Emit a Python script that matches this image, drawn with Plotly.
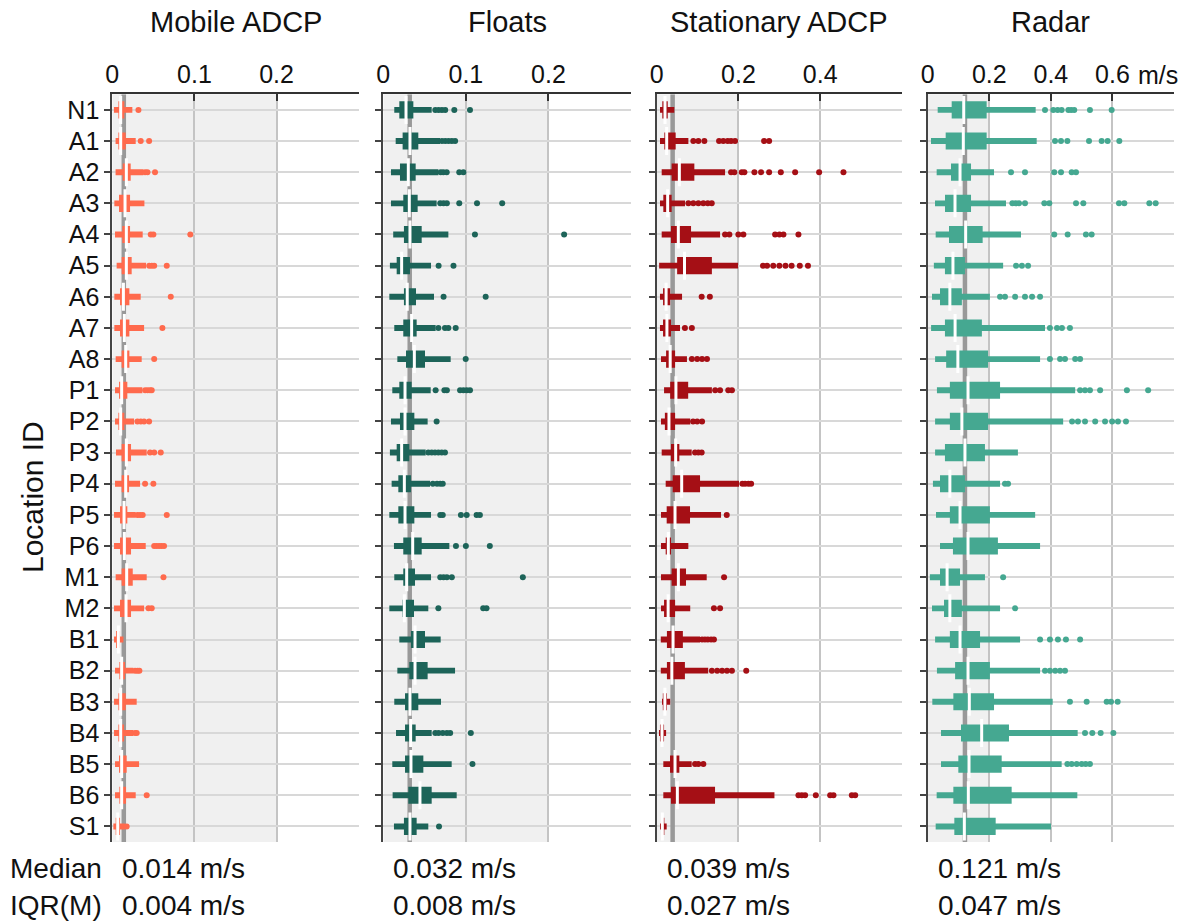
import plotly.graph_objects as go

W, H = 1188, 922

locations = ["N1", "A1", "A2", "A3", "A4", "A5", "A6", "A7", "A8",
             "P1", "P2", "P3", "P4", "P5", "P6", "M1", "M2",
             "B1", "B2", "B3", "B4", "B5", "B6", "S1"]

instruments = ["Mobile ADCP", "Floats", "Stationary ADCP", "Radar"]
colors = ["#ff6a4d", "#1d6459", "#a50f15", "#45a891"]
overall_median = [0.014, 0.032, 0.039, 0.121]
overall_iqr = [0.004, 0.008, 0.027, 0.047]

# ---- Mobile ADCP letter values (m/s) ----
mob_lo = [0.0020, 0.0040, 0.0040, 0.0025, 0.0033, 0.0053, 0.0025, 0.0025, 0.0041, 0.0033, 0.0033, 0.0045,
          0.0033, 0.0021, 0.0021, 0.0041, 0.0021, 0.0021, 0.0033, 0.0021, 0.0021, 0.0033, 0.0033, 0.0013]
mob_q1 = [0.0074, 0.0074, 0.0127, 0.0082, 0.0122, 0.0114, 0.0094, 0.0094, 0.0114, 0.0082, 0.0074, 0.0114,
          0.0114, 0.0094, 0.0094, 0.0114, 0.0094, 0.0045, 0.0086, 0.0074, 0.0074, 0.0082, 0.0086, 0.0041]
mob_med = [0.0102, 0.0102, 0.0171, 0.0155, 0.0171, 0.0171, 0.0135, 0.0147, 0.0163, 0.0114, 0.0102, 0.0171,
           0.0163, 0.0143, 0.0147, 0.0175, 0.0167, 0.0074, 0.0114, 0.0102, 0.0102, 0.0114, 0.0114, 0.0066]
mob_q3 = [0.0147, 0.0163, 0.0224, 0.0216, 0.0216, 0.0236, 0.0208, 0.0208, 0.0208, 0.0183, 0.0147, 0.0228,
          0.0204, 0.0183, 0.0228, 0.0249, 0.0228, 0.0094, 0.0155, 0.0163, 0.0143, 0.0175, 0.0167, 0.0094]
mob_hi = [0.0244, 0.0285, 0.0379, 0.0391, 0.0370, 0.0411, 0.0346, 0.0387, 0.0358, 0.0366, 0.0265, 0.0419,
          0.0338, 0.0285, 0.0407, 0.0419, 0.0387, 0.0135, 0.0257, 0.0297, 0.0257, 0.0326, 0.0285, 0.0155]
mob_out = [[0.0318], [0.0346, 0.0448], [0.0399, 0.0428, 0.052], [], [0.0468, 0.050, 0.095],
           [0.045, 0.048, 0.051, 0.0663], [0.0712], [0.061], [0.051], [0.040, 0.043, 0.046, 0.048],
           [0.0306, 0.0346, 0.0387, 0.0448], [0.046, 0.051, 0.059], [0.0399, 0.050],
           [0.0306, 0.0338, 0.037, 0.0663], [0.051, 0.054, 0.057, 0.060, 0.063], [0.0623],
           [0.044, 0.048], [], [0.0277, 0.0306, 0.033], [], [0.0277, 0.0297], [], [0.0419], [0.0175]]

# ---- Floats ----
flt_lo = [0.0133, 0.0150, 0.0093, 0.0093, 0.0120, 0.0080, 0.0073, 0.0133, 0.0170, 0.0109, 0.0093, 0.0080,
          0.0101, 0.0073, 0.0129, 0.0133, 0.0073, 0.0194, 0.0170, 0.0133, 0.0154, 0.0109, 0.0113, 0.0129]
flt_q1 = [0.0194, 0.0234, 0.0202, 0.0242, 0.0250, 0.0162, 0.0250, 0.0242, 0.0275, 0.0194, 0.0202, 0.0162,
          0.0182, 0.0182, 0.0242, 0.0242, 0.0234, 0.0335, 0.0315, 0.0263, 0.0263, 0.0263, 0.0303, 0.0250]
flt_med = [0.0275, 0.0323, 0.0303, 0.0315, 0.0323, 0.0222, 0.0290, 0.0343, 0.0376, 0.0263, 0.0263, 0.0222,
           0.0255, 0.0263, 0.0356, 0.0283, 0.0255, 0.0384, 0.0384, 0.0323, 0.0331, 0.0335, 0.0444, 0.0323]
flt_q3 = [0.0364, 0.0424, 0.0392, 0.0416, 0.0465, 0.0323, 0.0396, 0.0404, 0.0505, 0.0343, 0.0376, 0.0315,
          0.0335, 0.0376, 0.0465, 0.0384, 0.0372, 0.0505, 0.0537, 0.0424, 0.0392, 0.0485, 0.0586, 0.0404]
flt_hi = [0.0586, 0.0687, 0.0667, 0.0646, 0.0788, 0.0578, 0.0614, 0.0634, 0.0816, 0.0574, 0.0537, 0.0513,
          0.0566, 0.0578, 0.0800, 0.0578, 0.0545, 0.0695, 0.0869, 0.0699, 0.0586, 0.0828, 0.0889, 0.0545]
flt_out = [[0.063, 0.067, 0.071, 0.075, 0.086, 0.105], [0.071, 0.075, 0.079, 0.083, 0.087],
           [0.0695, 0.0727, 0.0768, 0.092, 0.097], [0.069, 0.073, 0.077, 0.092, 0.1135, 0.144],
           [0.111, 0.219], [0.067, 0.085], [0.073, 0.124], [0.0667, 0.0747, 0.0788, 0.0877], [0.0998],
           [0.0634, 0.074, 0.077, 0.093, 0.097, 0.101, 0.105], [0.0646],
           [0.0545, 0.0586, 0.0626, 0.0667, 0.0707, 0.0747], [0.060, 0.065, 0.069, 0.072],
           [0.069, 0.072, 0.094, 0.101, 0.113, 0.117], [0.088, 0.100, 0.129],
           [0.069, 0.073, 0.077, 0.083, 0.169], [0.0667, 0.121, 0.125], [], [], [],
           [0.063, 0.067, 0.072, 0.077, 0.081, 0.106], [0.108], [], [0.0675]]

# ---- Stationary ADCP ----
sta_lo = [0.0081, 0.0081, 0.0122, 0.0081, 0.0122, 0.0060, 0.0080, 0.0080, 0.0105, 0.0180, 0.0105, 0.0122,
          0.0220, 0.0105, 0.0105, 0.0105, 0.0105, 0.0100, 0.0100, 0.0130, 0.0056, 0.0162, 0.0162, 0.0081]
sta_q1 = [0.0137, 0.0187, 0.0366, 0.0162, 0.0350, 0.0500, 0.0155, 0.0155, 0.0230, 0.0330, 0.0200, 0.0350,
          0.0391, 0.0244, 0.0220, 0.0366, 0.0180, 0.0250, 0.0250, 0.0150, 0.0080, 0.0326, 0.0350, 0.0122]
sta_med = [0.0203, 0.0244, 0.0554, 0.0268, 0.0529, 0.0680, 0.0230, 0.0250, 0.0330, 0.0470, 0.0300, 0.0464,
           0.0611, 0.0448, 0.0285, 0.0530, 0.0280, 0.0400, 0.0370, 0.0200, 0.0130, 0.0448, 0.0505, 0.0138]
sta_q3 = [0.0270, 0.0464, 0.0921, 0.0366, 0.0840, 0.1350, 0.0330, 0.0350, 0.0450, 0.0770, 0.0450, 0.0554,
          0.1060, 0.0815, 0.0350, 0.0717, 0.0450, 0.0640, 0.0690, 0.0250, 0.0180, 0.0554, 0.1427, 0.0187]
sta_hi = [0.0430, 0.0775, 0.1672, 0.0693, 0.1550, 0.1990, 0.0620, 0.0570, 0.0740, 0.1350, 0.0820, 0.0856,
          0.2015, 0.1574, 0.0774, 0.1223, 0.0820, 0.1060, 0.1260, 0.0330, 0.0230, 0.0856, 0.2880, 0.0244]
sta_out = [[], [0.0896, 0.1019, 0.1166, 0.1525, 0.163, 0.1737, 0.1819, 0.1917, 0.2627, 0.275],
           [0.1819, 0.190, 0.208, 0.2145, 0.239, 0.2553, 0.275, 0.3036, 0.3386, 0.3973, 0.4568],
           [0.0775, 0.0896, 0.1019, 0.114, 0.1249, 0.1346],
           [0.1672, 0.1778, 0.1998, 0.212, 0.2896, 0.3002, 0.310, 0.3467],
           [0.260, 0.270, 0.285, 0.300, 0.315, 0.330, 0.350, 0.370], [0.110, 0.130], [0.069, 0.086],
           [0.086, 0.099, 0.111, 0.123], [0.143, 0.155, 0.175, 0.184], [0.089, 0.099, 0.111],
           [0.0938, 0.1019, 0.110], [0.2096, 0.2162, 0.2243, 0.2309], [0.1713], [], [0.1648],
           [0.140, 0.155], [0.111, 0.118, 0.125, 0.133, 0.140], [0.135, 0.148, 0.160, 0.172, 0.184, 0.219],
           [], [], [0.0938, 0.1019, 0.1141],
           [0.3467, 0.3549, 0.363, 0.3892, 0.4243, 0.4324, 0.4773, 0.4855], []]

# ---- Radar ----
rad_lo = [0.0324, 0.0107, 0.0291, 0.0237, 0.0259, 0.0200, 0.0140, 0.0110, 0.0240, 0.0300, 0.0240, 0.0240,
          0.0170, 0.0270, 0.0400, 0.0070, 0.0140, 0.0240, 0.0300, 0.0150, 0.0432, 0.0432, 0.0291, 0.0259]
rad_q1 = [0.0779, 0.0584, 0.0757, 0.0562, 0.0692, 0.0560, 0.0400, 0.0560, 0.0600, 0.0720, 0.0720, 0.0560,
          0.0400, 0.0720, 0.0820, 0.0400, 0.0530, 0.0720, 0.0890, 0.0833, 0.1082, 0.0995, 0.0833, 0.0865]
rad_med = [0.1170, 0.1157, 0.1050, 0.0887, 0.1233, 0.0820, 0.0720, 0.0890, 0.0980, 0.1310, 0.1110, 0.1210,
           0.0720, 0.1050, 0.1310, 0.0630, 0.0720, 0.1050, 0.1310, 0.1352, 0.1753, 0.1342, 0.1320, 0.1190]
rad_q3 = [0.1915, 0.1915, 0.1407, 0.1407, 0.1785, 0.1210, 0.1110, 0.1760, 0.1960, 0.2350, 0.1960, 0.1860,
          0.1210, 0.2020, 0.2280, 0.1050, 0.1110, 0.1700, 0.2020, 0.2154, 0.2640, 0.2403, 0.2727, 0.2208]
rad_hi = [0.3507, 0.3540, 0.2154, 0.2543, 0.3030, 0.2450, 0.2020, 0.3810, 0.3650, 0.4790, 0.4400, 0.2930,
          0.2350, 0.3490, 0.3650, 0.1860, 0.2350, 0.3000, 0.3650, 0.4060, 0.4871, 0.4351, 0.4860, 0.4005]
rad_out = [[0.381, 0.408, 0.422, 0.435, 0.457, 0.466, 0.476, 0.527, 0.5975],
           [0.4135, 0.433, 0.4536, 0.524, 0.565, 0.5845, 0.6224],
           [0.2706, 0.316, 0.411, 0.433, 0.4676, 0.4817],
           [0.275, 0.2857, 0.2966, 0.316, 0.3788, 0.395, 0.4817, 0.5055, 0.6213, 0.6387, 0.7199, 0.7405],
           [0.411, 0.4546, 0.514, 0.5326], [0.287, 0.306, 0.326],
           [0.235, 0.251, 0.284, 0.316, 0.339, 0.365], [0.397, 0.420, 0.436, 0.462],
           [0.397, 0.430, 0.446, 0.479, 0.495], [0.495, 0.511, 0.527, 0.560, 0.647, 0.716],
           [0.469, 0.488, 0.511, 0.544, 0.576, 0.599, 0.618, 0.644], [], [0.251, 0.261], [], [],
           [0.245], [0.284], [0.365, 0.397, 0.423, 0.449, 0.495], [0.381, 0.397, 0.414, 0.430, 0.446],
           [0.462, 0.5163, 0.5813, 0.5954, 0.617], [0.511, 0.5347, 0.5618, 0.603],
           [0.4536, 0.4676, 0.4839, 0.5001, 0.5131, 0.527], [], []]

panels = [
    (mob_lo, mob_q1, mob_med, mob_q3, mob_hi, mob_out),
    (flt_lo, flt_q1, flt_med, flt_q3, flt_hi, flt_out),
    (sta_lo, sta_q1, sta_med, sta_q3, sta_hi, sta_out),
    (rad_lo, rad_q1, rad_med, rad_q3, rad_hi, rad_out),
]

x_ranges = [[0, 0.3], [0, 0.3], [0, 0.6], [0, 0.8]]
x_tickvals = [[0, 0.1, 0.2, 0.3], [0, 0.1, 0.2, 0.3], [0, 0.2, 0.4, 0.6], [0, 0.2, 0.4, 0.6, 0.8]]
x_ticktext = [["0", "0.1", "0.2", ""], ["0", "0.1", "0.2", ""], ["0", "0.2", "0.4", ""],
              ["0", "0.2", "0.4", "0.6", ""]]
UNIT_TICK = 0.6          # the unit is written after this tick on the last panel
SHADE_LIMIT = 0.2

# panel placement in pixels
panel_px = [(112.3, 358.7), (383.3, 631.0), (656.7, 902.0), (927.7, 1174.0)]
plot_top, plot_bottom = 94.3, 842.0
MEDIAN_LINE_PX = 4.5

FONT = "Liberation Sans, Arial, sans-serif"
TEXT = "#111"
rows = list(range(len(locations)))

fig = go.Figure()
layout = dict(
    width=W, height=H, margin=dict(l=0, r=0, t=0, b=0, pad=0), autosize=False,
    paper_bgcolor="white", plot_bgcolor="rgba(0,0,0,0)",
    barmode="overlay", showlegend=False,
    font=dict(family=FONT, size=24, color=TEXT),
)
shapes = []
annotations = []

for i, (lo, q1, med, q3, hi, out) in enumerate(panels):
    n = "" if i == 0 else str(i + 1)
    xa, ya = "x" + n, "y" + n
    col = colors[i]
    x0p, x1p = panel_px[i]
    units_per_px = (x_ranges[i][1] - x_ranges[i][0]) / (x1p - x0p)

    layout["xaxis" + n] = dict(
        domain=[x0p / W, x1p / W], range=x_ranges[i], anchor=ya, side="top",
        tickvals=x_tickvals[i], ticktext=x_ticktext[i], ticks="inside", ticklen=7,
        tickwidth=1.5, tickcolor="#333", showline=True, linecolor="#333", linewidth=1.5,
        showgrid=True, gridcolor="#c4c4c4", gridwidth=1.5, zeroline=False, automargin=False,
        tickfont=dict(size=25, color=TEXT), fixedrange=True,
    )
    layout["yaxis" + n] = dict(
        domain=[1 - plot_bottom / H, 1 - plot_top / H], range=[len(locations) - 0.5, -0.5],
        anchor=xa, tickvals=rows, ticktext=locations, showticklabels=(i == 0),
        ticks="outside", ticklen=6, tickwidth=1.5, tickcolor="#444",
        showline=True, linecolor="#444", linewidth=2, automargin=False,
        showgrid=True, gridcolor="#d8d8d8", gridwidth=1.6, zeroline=False,
        tickfont=dict(size=25, color=TEXT), fixedrange=True,
    )

    # light band below the shade limit
    shapes.append(dict(type="rect", xref=xa, yref=ya + " domain", x0=0, x1=SHADE_LIMIT,
                       y0=0, y1=1, fillcolor="#f0f0f0", line=dict(width=0), layer="below"))

    # overall median of the instrument, a full-height column behind the boxes
    fig.add_trace(go.Bar(
        x=[overall_median[i]], y=[len(locations)], base=[-0.5], orientation="v",
        width=[MEDIAN_LINE_PX * units_per_px], marker=dict(color="#999999", line=dict(width=0)),
        xaxis=xa, yaxis=ya, hoverinfo="skip"))
    # outer letter-value range
    fig.add_trace(go.Bar(
        y=rows, x=[h - l for l, h in zip(lo, hi)], base=lo, orientation="h", width=0.19,
        marker=dict(color=col, line=dict(width=0)), xaxis=xa, yaxis=ya, hoverinfo="skip"))
    # interquartile box
    fig.add_trace(go.Bar(
        y=rows, x=[b - a for a, b in zip(q1, q3)], base=q1, orientation="h", width=0.55,
        marker=dict(color=col, line=dict(width=0)), xaxis=xa, yaxis=ya, hoverinfo="skip"))
    # median tick
    fig.add_trace(go.Scatter(
        x=med, y=rows, mode="markers", xaxis=xa, yaxis=ya, hoverinfo="skip",
        marker=dict(symbol="line-ns", size=20, color="white",
                    line=dict(color="white", width=3))))
    # outliers
    ox, oy = [], []
    for r, vals in enumerate(out):
        ox.extend(vals)
        oy.extend([r] * len(vals))
    fig.add_trace(go.Scatter(
        x=ox, y=oy, mode="markers", xaxis=xa, yaxis=ya, hoverinfo="skip",
        marker=dict(size=6, color=col, line=dict(width=0))))

    # panel title
    annotations.append(dict(text=instruments[i], xref="paper", yref="paper",
                            x=(x0p + x1p) / 2 / W, y=1 - 22 / H, showarrow=False,
                            xanchor="center", yanchor="middle", font=dict(size=29)))
    # summary statistics under the panel
    annotations.append(dict(text=f"{overall_median[i]:.3f} m/s", xref="paper", yref="paper",
                            x=(x0p + 8) / W, y=1 - 868 / H, showarrow=False,
                            xanchor="left", yanchor="middle", font=dict(size=28)))
    annotations.append(dict(text=f"{overall_iqr[i]:.3f} m/s", xref="paper", yref="paper",
                            x=(x0p + 8) / W, y=1 - 905 / H, showarrow=False,
                            xanchor="left", yanchor="middle", font=dict(size=28)))

# unit written after the last labelled tick of the radar panel
annotations.append(dict(text="m/s", xref="x4", yref="paper", x=UNIT_TICK, y=1 - 75 / H,
                        xshift=24, showarrow=False, xanchor="left", yanchor="middle",
                        font=dict(size=25)))
annotations.append(dict(text="Median", xref="paper", yref="paper", x=8 / W, y=1 - 868 / H,
                        showarrow=False, xanchor="left", yanchor="middle", font=dict(size=28)))
annotations.append(dict(text="IQR(M)", xref="paper", yref="paper", x=8 / W, y=1 - 905 / H,
                        showarrow=False, xanchor="left", yanchor="middle", font=dict(size=28)))
annotations.append(dict(text="Location ID", xref="paper", yref="paper", x=32 / W,
                        y=1 - 497 / H, showarrow=False, textangle=-90,
                        xanchor="center", yanchor="middle", font=dict(size=30)))

layout["shapes"] = shapes
layout["annotations"] = annotations
fig.update_layout(**layout)
fig.write_html("out.html")
